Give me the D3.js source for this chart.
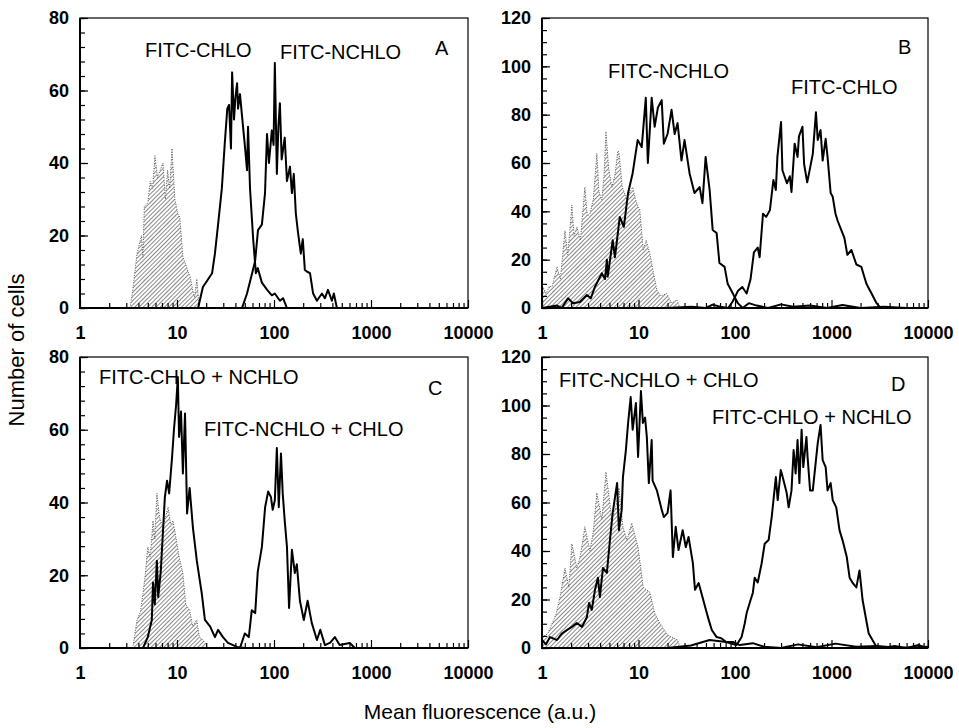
<!DOCTYPE html>
<html>
<head>
<meta charset="utf-8">
<script src="https://cdn.jsdelivr.net/npm/d3@7"></script>
<style>
body { margin: 0; background: #fff; }
text { font-family: "Liberation Sans", Arial, sans-serif; fill: #000; }
.tick text { font-weight: bold; font-size: 18px; }
.note { font-size: 20px; }
.title { font-size: 21px; }
.ytitle { font-size: 22px; }
</style>
</head>
<body>
<svg id="chart" width="959" height="728"></svg>
<script>
// tick labels
const xTickValues = [1, 10, 100, 1000, 10000];
const yTicks80 = [0, 20, 40, 60, 80];
const yTicks120 = [0, 20, 40, 60, 80, 100, 120];

// panel A: [fluorescence, number of cells]
const ctrlA = [[3.28,0],[3.5,5],[3.87,15],[4.3,20],[4.45,14],[4.6,28],[5.0,29],[5.3,35],[5.6,33],[5.93,42],[6.3,36],[6.7,38],[7.17,40],[7.6,30],[8.0,38],[8.4,33],[8.88,44],[9.5,30],[10.2,26],[10.7,25],[11.5,14],[12.3,12],[13,10],[13.6,9],[14.5,5],[15.2,3],[16,8],[17,0]];
const chloA = [[16.5,0],[18.5,5.8],[21,8],[23,9.6],[24.6,15],[26.5,23],[29,33],[31,45],[33,55],[34.4,56],[36,44],[37,65],[38.7,52],[40,58],[41.6,62],[42.6,55],[44.6,59],[46.8,53],[50,45],[52.7,38],[54,50],[56.6,33],[61,19],[65,9.6],[68,11],[75,7],[85,5],[95,3.5],[102,4],[115,2],[124,2.7],[136,0],[146,0]];
const nchloA = [[46.8,0],[52.7,4],[59.5,9.6],[63.9,13],[68.4,21.5],[75,23],[80.8,31.7],[84.7,48],[88.7,40],[95,49],[99,45],[102,67.6],[107,37],[111,50],[115,56.5],[120,41],[129,47],[136,35],[146,39],[153,31.7],[160,37],[168,26],[177,20.7],[189,15],[198,19],[208,10.5],[220,10],[235,9.6],[253,4],[277,2],[312,4],[335,2.7],[360,5],[395,2],[414,4],[445,0]];

// panel B
const ctrlB = [[1.0,0],[1.02,8.8],[1.1,6],[1.2,9],[1.27,8.7],[1.43,17],[1.55,12],[1.73,32],[1.85,22],[2.04,42.6],[2.15,30],[2.3,33.6],[2.5,28],[2.78,50],[2.95,38],[3.14,39],[3.4,45],[3.7,64],[3.9,48],[4.17,44.7],[4.4,55],[4.6,73],[4.9,58],[5.3,50],[5.7,55],[6.1,65],[6.27,64.6],[6.8,50],[7.6,44.7],[8.1,48],[8.7,50],[9.3,45],[9.9,41.9],[10.3,41],[11.2,24],[12,28],[13.1,22.7],[14.2,15],[15.5,7.4],[17,5],[19.6,6],[22,2],[25,3.3],[27,0]];
const nchloB = [[1.0,0],[1.2,0.5],[1.43,1],[1.6,0],[1.86,4],[2.1,2],[2.47,2.5],[2.92,5.4],[3.2,4],[3.54,8.8],[4.17,14.4],[4.5,12],[4.7,20],[4.8,13],[5.4,28],[5.7,21],[6.4,37.7],[7.05,33.6],[7.8,47.6],[8.7,55.8],[9.8,69.5],[10.8,66.6],[11.9,87],[12.5,60],[13.7,87],[14.7,75],[15.9,83],[17.4,86],[18.3,68],[20,72],[22,82],[23.7,72],[25.4,76.5],[27.9,61],[30,69.5],[33.8,55.8],[38,47.6],[43,50],[46,43.4],[49.6,62.5],[54.6,48.8],[58.7,32.3],[64.5,31],[69,18.6],[78,17],[84,10],[95,6],[107,2],[120,0],[139,2],[168,1],[220,0],[300,1.5],[400,0.5],[600,1],[900,0],[1300,1.2],[2000,0],[3500,0.5],[6000,0],[10000,0]];
const chloB = [[20,0],[35,0.5],[50,0],[58.7,1.4],[70,0.5],[85,0],[95,2.8],[107,7],[119,8.7],[132,6],[145,12],[157,23],[172,25],[180,21],[195,39],[210,37.7],[230,40.5],[250,53],[265,48.8],[275,62.5],[300,77],[310,57],[345,51.6],[370,54.5],[385,48],[415,68],[445,62.5],[460,71],[500,75],[520,59.6],[560,52],[600,58],[640,63.8],[690,81],[720,69.5],[770,73.6],[810,61],[870,70],[910,62.5],[980,47.6],[1030,46],[1100,39],[1160,36],[1270,32],[1360,29],[1460,22],[1610,24],[1810,18],[2040,17],[2300,10],[2600,6],[2930,2],[3160,0.5],[3750,0]];

// panel C
const ctrlC = [[3.5,0],[3.87,7.7],[4.2,10],[4.46,15],[4.7,20],[5.0,27.8],[5.3,25],[5.66,35],[5.9,30],[6.2,42.5],[6.6,36],[7.2,33],[7.6,36],[8.1,38.7],[8.6,34],[9.1,35],[9.8,30],[10.5,25],[11.5,20.6],[12.3,12],[13.5,10.4],[14.5,6],[16,7.7],[17,3],[18.5,2.2],[21,0]];
const chloNchloC = [[4.46,0],[5.0,3],[5.5,7.7],[5.66,18],[5.9,12],[6.2,24],[6.4,14],[6.8,21],[7.2,33],[7.5,41.5],[7.9,46],[8.3,42.5],[8.9,52.5],[9.3,60],[9.8,67],[10.2,74.5],[10.5,58],[11,65],[11.5,48],[12.1,64.5],[12.7,37],[13.5,44],[14.6,33],[16,24],[18,15],[19.4,7.7],[22,5.9],[24.6,3],[26.5,5],[29.8,3],[33.5,1.4],[41.6,0.3],[50,0]];
const nchloChloC = [[44.6,0],[50,4],[55,3],[59,10.4],[64,9.6],[68,21],[75,27.8],[81,38.7],[87,43],[93,41.5],[97,38],[102,40.6],[107,55],[112,38.7],[118,53.5],[123,42.5],[129,35],[136,27.8],[143,11],[153,27],[164,20.6],[172,23],[185,13],[203,7.7],[222,13],[245,6.9],[277,2.2],[300,5],[335,0.8],[380,1.5],[424,3],[475,0.8],[605,1.4],[680,0]];

// panel D
const ctrlD = [[1.0,0],[1.02,4.5],[1.15,6],[1.27,10],[1.4,14],[1.54,21],[1.73,33],[1.9,25],[2.04,43],[2.3,33],[2.5,38],[2.78,50],[3.14,40],[3.4,48],[3.7,64],[4.17,53],[4.6,72.6],[5.3,53],[5.8,58],[6.27,66],[6.9,50],[7.6,44.5],[8.5,51.5],[9.9,41.6],[11.2,25],[13.1,23],[14.7,14.4],[16.6,10.3],[20,5.4],[25.4,3.3],[27,0]];
const nchloChloD = [[1.0,3.3],[1.1,1.5],[1.21,4.5],[1.43,3.3],[1.61,6],[1.81,7.4],[2.04,8.7],[2.3,10.3],[2.6,8.7],[2.92,12.8],[3.07,18.6],[3.28,15.7],[3.54,24],[3.8,29],[3.98,21],[4.28,33],[4.7,31],[5.06,44.5],[5.4,55.7],[5.7,62],[6.0,68],[6.27,48.6],[6.7,57],[6.9,70.5],[7.4,81.6],[7.8,92.8],[8.3,103.5],[8.7,90],[9.4,101],[9.9,78.8],[10.6,106],[11.1,92.8],[11.7,95],[12.2,87],[12.8,68],[13.7,85.8],[14,69],[15.5,65],[17.4,57],[18.3,54],[20,55.7],[21.5,65],[22.7,37.5],[24.3,50],[26,40.4],[28.7,48.6],[30.9,41.6],[33,45.8],[36.6,35],[38.5,24],[42,26.8],[46,21],[51,14.4],[53.5,11.5],[57.5,7.4],[64.5,4.5],[72,4],[81,2.5],[95,2.5],[112,1.2],[153,2],[200,0.5],[300,0],[450,1.5],[700,0.3],[1100,1.8],[1800,0.5],[3000,0.8],[5000,0],[10000,0.5]];
const chloNchloD = [[20,0],[35,1],[54.6,3.3],[81,2.5],[104,1.2],[117,4.5],[126,10],[132,14.4],[145,19.8],[153,22.7],[160,29],[172,27],[189,35],[203,43],[223,44.5],[240,54],[246,58],[265,70.5],[277,61],[298,73.4],[312,70.5],[343,64],[360,58],[385,65],[405,81.6],[425,72],[445,85.8],[465,68],[490,90],[510,74.6],[550,87],[565,78.8],[600,65],[640,65],[690,77.5],[720,84.5],[770,92],[810,77.5],[870,74.6],[910,65],[980,68],[1030,61],[1120,58],[1210,48.6],[1300,44.5],[1440,37.5],[1540,29],[1660,26.8],[1810,25],[1950,32],[2100,19.8],[2260,12.8],[2430,6],[2660,3.3],[2930,0.4],[3380,0],[4500,0.8],[6000,0],[8000,1.2],[10000,0]];

// annotation texts
const notesA = ["FITC-CHLO", "FITC-NCHLO"];
const notesB = ["FITC-NCHLO", "FITC-CHLO"];
const notesC = ["FITC-CHLO + NCHLO", "FITC-NCHLO + CHLO"];
const notesD = ["FITC-NCHLO + CHLO", "FITC-CHLO + NCHLO"];

// layout
const panels = [
  {id: "A", ctrl: ctrlA, curves: [chloA, nchloA], ticks: yTicks80, minor: 4, box: [80, 18, 468, 308],
   notes: notesA, notePos: [[145, 57], [280, 59]], letterPos: [435, 55]},
  {id: "B", ctrl: ctrlB, curves: [nchloB, chloB], ticks: yTicks120, minor: 5, box: [542, 18, 928, 308],
   notes: notesB, notePos: [[608, 78], [791, 94]], letterPos: [898, 54]},
  {id: "C", ctrl: ctrlC, curves: [chloNchloC, nchloChloC], ticks: yTicks80, minor: 4, box: [80, 357, 468, 648],
   notes: notesC, notePos: [[99, 384], [204, 436]], letterPos: [428, 395]},
  {id: "D", ctrl: ctrlD, curves: [nchloChloD, chloNchloD], ticks: yTicks120, minor: 5, box: [542, 357, 928, 648],
   notes: notesD, notePos: [[559, 387], [712, 424]], letterPos: [891, 391]}
];

const svg = d3.select("#chart");
const defs = svg.append("defs");

defs.append("pattern")
  .attr("id", "hatch")
  .attr("patternUnits", "userSpaceOnUse")
  .attr("width", 3).attr("height", 3)
  .attr("patternTransform", "rotate(45)")
  .append("line")
  .attr("x1", 0).attr("y1", 0).attr("x2", 0).attr("y2", 3)
  .attr("stroke", "#4a4a4a").attr("stroke-width", 1.3);

// log minor ticks 2..9 for each decade
const minorX = [];
for (let d = 1; d < 10000; d *= 10) {
  for (let k = 2; k <= 9; k++) minorX.push(d * k);
}

panels.forEach(function(p) {
  const [x0, y0, x1, y1] = p.box;
  const yMax = p.ticks[p.ticks.length - 1];

  const x = d3.scaleLog().domain([1, 10000]).range([x0, x1]);
  const y = d3.scaleLinear().domain([0, yMax]).range([y1, y0]);

  const g = svg.append("g");

  defs.append("clipPath").attr("id", "clip" + p.id)
    .append("rect").attr("x", x0).attr("y", y0).attr("width", x1 - x0).attr("height", y1 - y0);

  const plot = g.append("g").attr("clip-path", "url(#clip" + p.id + ")");

  const area = d3.area().x(d => x(d[0])).y0(y(0)).y1(d => y(d[1]));
  const line = d3.line().x(d => x(d[0])).y(d => y(d[1]));

  // unstained control (hatched)
  plot.append("path").datum(p.ctrl)
    .attr("d", area)
    .attr("fill", "url(#hatch)");
  plot.append("path").datum(p.ctrl)
    .attr("d", line)
    .attr("fill", "none")
    .attr("stroke", "#555")
    .attr("stroke-width", 1)
    .attr("stroke-dasharray", "1,1.5");

  p.curves.forEach(function(c) {
    plot.append("path").datum(c)
      .attr("d", line)
      .attr("fill", "none")
      .attr("stroke", "#000")
      .attr("stroke-width", 2)
      .attr("stroke-linejoin", "round");
  });

  // y axis (ticks point inward)
  const minorY = d3.range(0, yMax + 0.1, p.minor);
  g.append("g")
    .attr("transform", "translate(" + x0 + ",0)")
    .call(d3.axisLeft(y).tickValues(minorY).tickSizeInner(-5).tickSizeOuter(0).tickFormat(""))
    .call(a => a.select(".domain").remove());
  g.append("g")
    .attr("transform", "translate(" + x0 + ",0)")
    .call(d3.axisLeft(y).tickValues(p.ticks).tickSizeInner(-8).tickSizeOuter(0).tickPadding(11))
    .call(a => a.select(".domain").remove());

  // x axis
  g.append("g")
    .attr("transform", "translate(0," + y1 + ")")
    .call(d3.axisBottom(x).tickValues(minorX).tickSizeInner(-5).tickSizeOuter(0).tickFormat(""))
    .call(a => a.select(".domain").remove());
  g.append("g")
    .attr("transform", "translate(0," + y1 + ")")
    .call(d3.axisBottom(x).tickValues(xTickValues).tickSizeInner(-8).tickSizeOuter(0).tickPadding(18).tickFormat(d3.format("d")))
    .call(a => a.select(".domain").remove());

  g.selectAll(".tick line").attr("stroke", "#000").attr("stroke-width", 1.2);

  // frame
  g.append("rect")
    .attr("x", x0).attr("y", y0).attr("width", x1 - x0).attr("height", y1 - y0)
    .attr("fill", "none").attr("stroke", "#000").attr("stroke-width", 1.2);
  g.append("path")
    .attr("d", "M" + x0 + "," + y0 + "V" + y1 + "H" + x1)
    .attr("fill", "none").attr("stroke", "#000").attr("stroke-width", 2);

  // annotations
  p.notes.forEach(function(t, i) {
    g.append("text").attr("class", "note")
      .attr("x", p.notePos[i][0]).attr("y", p.notePos[i][1])
      .text(t);
  });
  g.append("text").attr("class", "note")
    .attr("x", p.letterPos[0]).attr("y", p.letterPos[1])
    .text(p.id);
});

svg.append("text").attr("class", "ytitle")
  .attr("transform", "translate(24,350) rotate(-90)")
  .attr("text-anchor", "middle")
  .text("Number of cells");

svg.append("text").attr("class", "title")
  .attr("x", 480).attr("y", 719)
  .attr("text-anchor", "middle")
  .text("Mean fluorescence (a.u.)");
</script>
</body>
</html>
